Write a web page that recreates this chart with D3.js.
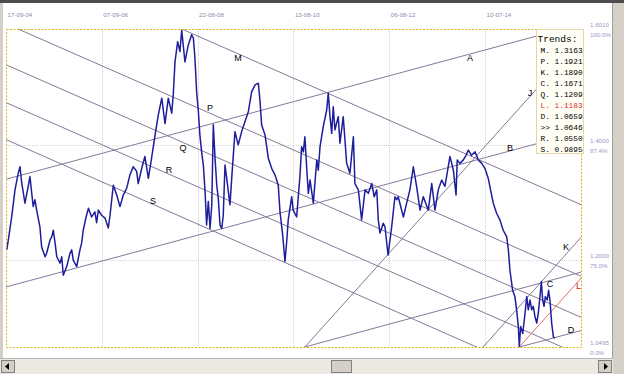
<!DOCTYPE html>
<html>
<head>
<meta charset="utf-8">
<script src="https://cdn.jsdelivr.net/npm/d3@7"></script>
<style>
body { margin: 0; background: #fff; overflow: hidden; }
svg { display: block; }
</style>
</head>
<body>
<div id="chart"></div>
<script>
// bar index and close
var priceBars = [4,12,30,47,64,73,82,99,116,125,134,142,151,160,177,186,204,212,230,239,247,256,265,282,291,299,317,334,343,351,369,386,395,403,418,430,447,464,473,482,499,517,534,543,560,578,595,612,630,647,664,682,690,708,725,743,757,778,795,813,830,847,865,873,882,896,908,917,934,951,969,978,986,995,1004,1012,1021,1030,1039,1047,1056,1065,1074,1082,1091,1100,1108,1117,1126,1134,1143,1152,1169,1178,1195,1212,1230,1247,1265,1282,1300,1317,1326,1334,1352,1369,1387,1404,1421,1430,1444,1456,1465,1473,1491,1499,1517,1534,1543,1552,1560,1569,1578,1587,1604,1622,1630,1639,1656,1674,1682,1691,1700,1708,1717,1734,1743,1760,1769,1778,1795,1813,1821,1839,1856,1874,1891,1909,1922,1935,1943,1952,1969,1978,1994,2013,2030,2039,2047,2074,2091,2108,2126,2143,2161,2178,2204,2222,2239,2256,2274,2291,2308,2317,2335,2349,2355,2369,2387,2401,2413,2430,2448,2465,2483,2500,2517,2543,2561,2578,2595,2613,2622,2630,2644,2656,2665,2674,2679,2686,2697,2709,2718,2726,2735,2744,2752,2761,2770,2778,2787,2794,2801,2808,2815,2825,2832,2839,2848,2857,2865]
var priceClose = [1.218,1.235,1.276,1.322,1.351,1.362,1.334,1.299,1.328,1.345,1.317,1.293,1.305,1.287,1.258,1.223,1.206,1.212,1.235,1.241,1.252,1.230,1.206,1.195,1.206,1.174,1.189,1.212,1.218,1.200,1.189,1.218,1.230,1.252,1.275,1.290,1.275,1.284,1.265,1.287,1.278,1.273,1.256,1.278,1.330,1.313,1.293,1.313,1.325,1.348,1.362,1.354,1.333,1.359,1.380,1.342,1.371,1.417,1.452,1.481,1.437,1.481,1.455,1.487,1.544,1.579,1.562,1.599,1.544,1.573,1.591,1.585,1.551,1.492,1.458,1.417,1.388,1.365,1.319,1.261,1.302,1.255,1.296,1.435,1.377,1.330,1.307,1.261,1.255,1.278,1.365,1.342,1.296,1.342,1.423,1.400,1.423,1.440,1.458,1.492,1.504,1.507,1.475,1.435,1.417,1.377,1.359,1.348,1.330,1.284,1.244,1.198,1.232,1.270,1.310,1.287,1.275,1.345,1.397,1.388,1.414,1.362,1.316,1.339,1.299,1.374,1.356,1.397,1.432,1.461,1.490,1.449,1.420,1.466,1.426,1.449,1.403,1.449,1.409,1.368,1.351,1.414,1.333,1.322,1.270,1.322,1.316,1.333,1.310,1.322,1.270,1.247,1.264,1.258,1.209,1.258,1.310,1.305,1.310,1.275,1.299,1.322,1.362,1.328,1.287,1.310,1.287,1.333,1.287,1.322,1.339,1.328,1.362,1.380,1.356,1.313,1.374,1.368,1.374,1.382,1.391,1.382,1.388,1.374,1.368,1.359,1.342,1.299,1.281,1.270,1.252,1.241,1.218,1.183,1.148,1.137,1.114,1.085,1.050,1.085,1.073,1.108,1.137,1.114,1.131,1.114,1.120,1.102,1.091,1.108,1.137,1.163,1.131,1.120,1.137,1.131,1.148,1.131,1.091,1.067,1.0646]

var tickBars = [0, 500, 1000, 1500, 2000, 2500]
var tickLabels = ["17-09-04", "07-09-06", "22-08-08", "13-08-10", "06-08-12", "10-07-14"]

var levelValues = [1.6010, 1.4000, 1.2000, 1.0495]
var levelLabels = ["1.6010", "1.4000", "1.2000", "1.0495"]
var levelPcts = ["100.0%", "87.4%", "75.0%", "0.0%"]

// trend lines: anchor point and value at the current bar
var currentBar = 2865
var trendNames = ["M", "P", "Q", "R", "S", "A", "B", "C", "D", "J", "K", "L"]
var trendStartBar = [917, 63, 0, 0, 0, 0, 0, 1560, 2679, 1560, 2490, 2679]
var trendStartPrice = [1.6010, 1.6010, 1.5390, 1.4734, 1.4092, 1.3404, 1.1536, 1.0495, 1.0495, 1.0495, 1.0495, 1.0495]
var trendEndPrice = [1.3163, 1.1921, 1.1209, 1.0550, 0.9895, 1.5974, 1.4106, 1.1671, 1.0659, 1.5324, 1.1890, 1.1183]
var labelBars = [1211, 1065, 924, 851, 767, 2422, 2630, 2839, 2949, 2735, 2923, 2980]

var legendNames = ["M.", "P.", "K.", "C.", "Q.", "L.", "D.", ">>", "R.", "S."]
var legendValues = [1.3163, 1.1921, 1.1890, 1.1671, 1.1209, 1.1183, 1.0659, 1.0646, 1.0550, 0.9895]

var width = 624, height = 374
var plot = { left: 6, right: 581, top: 29, bottom: 347 }
var labelOffset = { M: [0, 4.5], P: [0, -5], Q: [0, 5.5], R: [0, -4.5], S: [0, -3.5], A: [0, 4],
    B: [0, -3], C: [0, 3.6], D: [0, -3.7], J: [0, -3.5], K: [0, -7], L: [1.5, 3] }

var svg = d3.select("#chart").append("svg")
    .attr("width", width)
    .attr("height", height)

// window chrome
svg.append("rect").attr("x", 0).attr("y", 0).attr("width", width).attr("height", 3).attr("fill", "#4d4d4d")
svg.append("rect").attr("x", 0).attr("y", 3).attr("width", 3).attr("height", height).attr("fill", "#d4d0c8")
svg.append("rect").attr("x", 613).attr("y", 3).attr("width", 11).attr("height", height).attr("fill", "#d4d0c8")
svg.append("line").attr("x1", 612.5).attr("x2", 612.5).attr("y1", 3).attr("y2", height).attr("stroke", "#a0a0a0")
svg.append("rect").attr("x", 0).attr("y", 359).attr("width", 613).attr("height", 15).attr("fill", "#ece9e2")
svg.append("line").attr("x1", 0).attr("x2", 613).attr("y1", 358.5).attr("y2", 358.5).attr("stroke", "#b8b8b8")
var buttons = [[1, 13], [598, 13], [331, 20]]
buttons.forEach(function (b) {
    svg.append("rect").attr("x", b[0] + 0.5).attr("y", 360.5).attr("width", b[1]).attr("height", 12)
        .attr("fill", "#d4d0c8").attr("stroke", "#808080")
})
svg.append("path").attr("d", "M5,366.5 L9,363 L9,370 Z").attr("fill", "#000")
svg.append("path").attr("d", "M608,366.5 L604,363 L604,370 Z").attr("fill", "#000")

var x = d3.scaleLinear().domain([0, 2500]).range([6, 485])
var y = d3.scaleLinear().domain([1.0495, 1.6010]).range([plot.bottom, plot.top])

svg.append("clipPath").attr("id", "clip")
    .append("rect")
    .attr("x", plot.left).attr("y", plot.top)
    .attr("width", plot.right - plot.left).attr("height", plot.bottom - plot.top)

var g = svg.append("g")

// grid
g.selectAll(".vgrid").data(tickBars.slice(1)).enter().append("line")
    .attr("x1", function (d) { return Math.round(x(d)) + 0.5 })
    .attr("x2", function (d) { return Math.round(x(d)) + 0.5 })
    .attr("y1", plot.top).attr("y2", plot.bottom)
    .attr("stroke", "#cfcfcf").attr("stroke-dasharray", "1,1")
g.selectAll(".hgrid").data([1.4, 1.2]).enter().append("line")
    .attr("x1", plot.left).attr("x2", plot.right)
    .attr("y1", function (d) { return Math.round(y(d)) + 0.5 })
    .attr("y2", function (d) { return Math.round(y(d)) + 0.5 })
    .attr("stroke", "#d6d6d6").attr("stroke-dasharray", "1,1")

// top date labels
svg.selectAll(".xlab").data(tickBars).enter().append("text")
    .attr("x", function (d) { return x(d) + 1.5 })
    .attr("y", 15)
    .attr("dy", "0.35em")
    .attr("font-family", "Liberation Sans, Arial, sans-serif")
    .attr("font-size", "6.2px")
    .attr("fill", "#8a8ab4")
    .text(function (d, i) { return tickLabels[i] })

// right level labels
levelValues.forEach(function (v, i) {
    svg.append("text").attr("x", 590).attr("y", y(v) - 4.5).attr("dy", "0.35em")
        .attr("font-family", "Liberation Sans, Arial, sans-serif").attr("font-size", "6.2px")
        .attr("fill", "#9a9ac8").text(levelLabels[i])
    svg.append("text").attr("x", 590).attr("y", y(v) + 5.5).attr("dy", "0.35em")
        .attr("font-family", "Liberation Sans, Arial, sans-serif").attr("font-size", "6.2px")
        .attr("fill", "#9a9ac8").text(levelPcts[i])
})

// trend lines
function trendAt(i, bar) {
    var slope = (trendEndPrice[i] - trendStartPrice[i]) / (currentBar - trendStartBar[i])
    return trendStartPrice[i] + slope * (bar - trendStartBar[i])
}
var lines = g.append("g").attr("clip-path", "url(#clip)")
trendNames.forEach(function (n, i) {
    lines.append("line")
        .attr("x1", x(-300)).attr("y1", y(trendAt(i, -300)))
        .attr("x2", x(3300)).attr("y2", y(trendAt(i, 3300)))
        .attr("stroke", n == "L" ? "#e66a6a" : "#86789a")
        .attr("stroke-width", 1)
})

// price
var priceLine = d3.line()
    .x(function (d, i) { return x(priceBars[i]) })
    .y(function (d) { return y(d) })
lines.append("path")
    .datum(priceClose)
    .attr("d", priceLine)
    .attr("fill", "none")
    .attr("stroke", "#1e1e9c")
    .attr("stroke-width", 1.5)
    .attr("stroke-linejoin", "round")

// trend labels
trendNames.forEach(function (n, i) {
    var off = labelOffset[n]
    svg.append("text")
        .attr("x", x(labelBars[i]) + off[0])
        .attr("y", y(trendAt(i, labelBars[i])) + off[1])
        .attr("dy", "0.35em")
        .attr("text-anchor", "middle")
        .attr("font-family", "Liberation Sans, Arial, sans-serif")
        .attr("font-size", "9px")
        .attr("fill", n == "L" ? "#d42020" : "#000")
        .text(n)
})

// plot border
svg.append("rect")
    .attr("x", plot.left + 0.5).attr("y", plot.top + 0.5)
    .attr("width", plot.right - plot.left).attr("height", plot.bottom - plot.top)
    .attr("fill", "none")
    .attr("stroke", "#e2b21a")
    .attr("stroke-dasharray", "2,1.5")

// legend box
var box = svg.append("g")
box.append("rect")
    .attr("x", 536.5).attr("y", 29.5).attr("width", 47).attr("height", 124)
    .attr("fill", "#fffff6").attr("stroke", "#e4d6a6")
box.append("text").attr("x", 537.5).attr("y", 38.5).attr("dy", "0.35em")
    .attr("font-family", "Courier New, Liberation Mono, monospace").attr("font-size", "9.5px")
    .attr("fill", "#000").text("Trends:")
legendNames.forEach(function (n, i) {
    box.append("text")
        .attr("x", 540.5).attr("y", 50 + i * 11)
        .attr("dy", "0.35em")
        .attr("font-family", "Courier New, Liberation Mono, monospace")
        .attr("font-size", "7.8px")
        .attr("fill", n == "L." ? "#e02828" : "#000")
        .text(n + " " + legendValues[i].toFixed(4))
})
</script>
</body>
</html>
